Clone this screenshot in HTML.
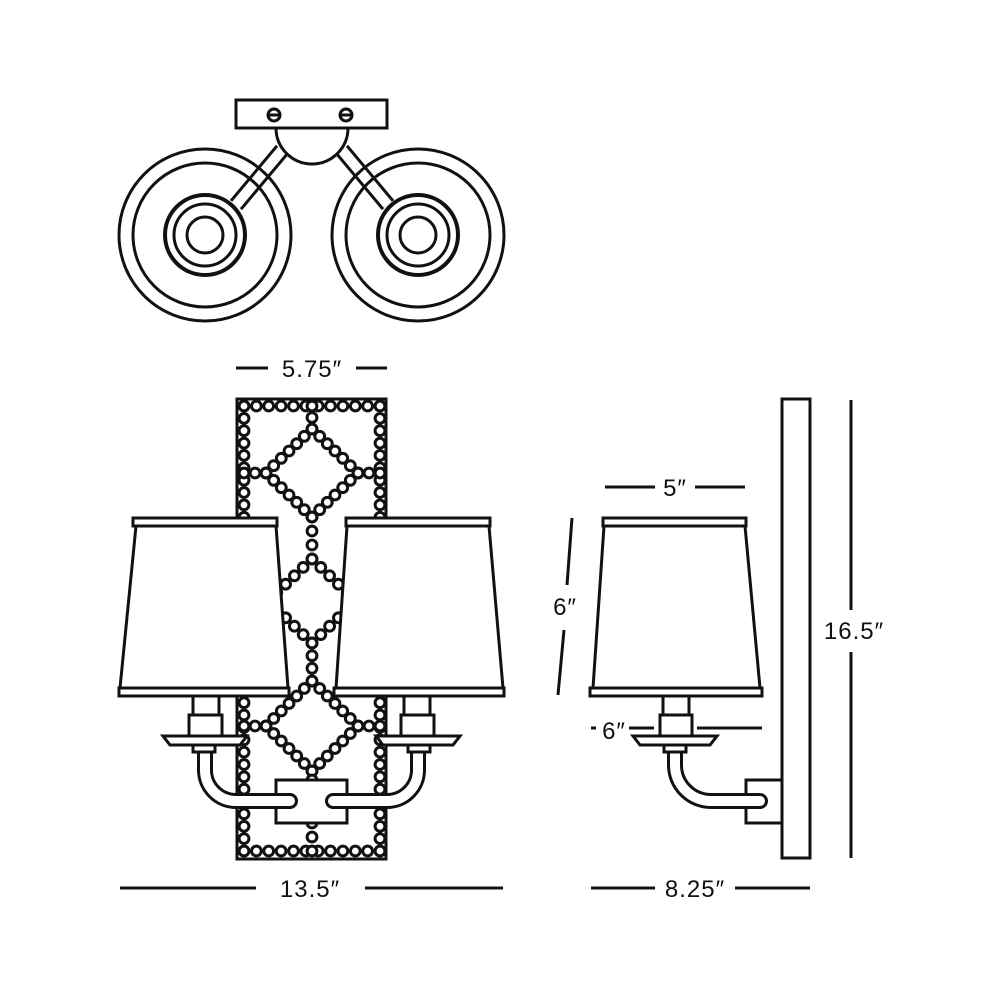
<!DOCTYPE html>
<html><head><meta charset="utf-8"><style>
html,body{margin:0;padding:0;background:#fff;}
svg{display:block;}
text{font-family:"Liberation Sans",sans-serif;font-size:24px;letter-spacing:1px;fill:#111;}
</style></head><body>
<svg id="s" width="1000" height="1000" viewBox="0 0 1000 1000" xmlns="http://www.w3.org/2000/svg" fill="none" stroke="#111" stroke-width="3">
<!-- TOP VIEW -->
<g>
<line x1="282" y1="150" x2="236" y2="205" stroke="#111" stroke-width="16"/>
<line x1="282" y1="150" x2="236" y2="205" stroke="#fff" stroke-width="10"/>
<line x1="342" y1="150" x2="388" y2="205" stroke="#111" stroke-width="16"/>
<line x1="342" y1="150" x2="388" y2="205" stroke="#fff" stroke-width="10"/>
<circle cx="205" cy="235" r="86"/>
<circle cx="205" cy="235" r="72"/>
<circle cx="418" cy="235" r="86"/>
<circle cx="418" cy="235" r="72"/>
<circle cx="205" cy="235" r="40" fill="#fff" stroke-width="4"/>
<circle cx="205" cy="235" r="31"/>
<circle cx="205" cy="235" r="18"/>
<circle cx="418" cy="235" r="40" fill="#fff" stroke-width="4"/>
<circle cx="418" cy="235" r="31"/>
<circle cx="418" cy="235" r="18"/>
<path d="M276 128 A36 36 0 0 0 348 128" fill="#fff"/>
<rect x="236" y="100" width="151" height="28" fill="#fff"/>
<circle cx="274" cy="115" r="6"/><line x1="268" y1="115" x2="280" y2="115"/>
<circle cx="346" cy="115" r="6"/><line x1="340" y1="115" x2="352" y2="115"/>
</g>
<!-- FRONT backplate -->
<rect x="237" y="399" width="149" height="460" fill="#fff" stroke-width="3"/>
<g id="beads"></g>
<rect x="276" y="780" width="71" height="43" fill="#fff"/>
<g id="arms">
<path d="M205 750 V770 A31 31 0 0 0 236 801 H290" stroke="#111" stroke-width="16" stroke-linecap="round"/>
<path d="M205 750 V770 A31 31 0 0 0 236 801 H290" stroke="#fff" stroke-width="10" stroke-linecap="round"/>
<path d="M418 750 V770 A31 31 0 0 1 387 801 H333" stroke="#111" stroke-width="16" stroke-linecap="round"/>
<path d="M418 750 V770 A31 31 0 0 1 387 801 H333" stroke="#fff" stroke-width="10" stroke-linecap="round"/>
</g>
<g fill="#fff">
<rect x="193" y="696" width="26" height="19"/>
<rect x="189" y="715" width="33" height="21"/>
<path d="M163 736 H247 L240 745 H170 Z"/>
<rect x="193" y="745" width="22" height="7"/>
<path d="M136 526 H276 L288 688 H120 Z"/>
<rect x="133" y="518" width="144" height="8"/>
<rect x="119" y="688" width="170" height="8"/>
</g>
<g fill="#fff">
<rect x="404" y="696" width="26" height="19"/>
<rect x="401" y="715" width="33" height="21"/>
<path d="M376 736 H460 L453 745 H383 Z"/>
<rect x="408" y="745" width="22" height="7"/>
<path d="M347 526 H489 L503 688 H336 Z"/>
<rect x="346" y="518" width="144" height="8"/>
<rect x="334" y="688" width="170" height="8"/>
</g>
<!-- SIDE VIEW -->
<rect x="782" y="399" width="28" height="459" fill="#fff"/>
<rect x="746" y="780" width="36" height="43" fill="#fff"/>
<path d="M675 750 V765 A36 36 0 0 0 711 801 H760" stroke="#111" stroke-width="16" stroke-linecap="round"/>
<path d="M675 750 V765 A36 36 0 0 0 711 801 H760" stroke="#fff" stroke-width="10" stroke-linecap="round"/>
<g fill="#fff">
<rect x="663" y="696" width="26" height="19"/>
<rect x="660" y="715" width="32" height="21"/>
<path d="M633 736 H717 L710 745 H640 Z"/>
<rect x="664" y="745" width="22" height="7"/>
<path d="M604 526 H745 L760 688 H593 Z"/>
<rect x="603" y="518" width="143" height="8"/>
<rect x="590" y="688" width="172" height="8"/>
</g>
<!-- DIMENSIONS -->
<g stroke-width="3">
<line x1="236" y1="368" x2="268" y2="368"/><line x1="356" y1="368" x2="387" y2="368"/>
<line x1="120" y1="888" x2="256" y2="888"/><line x1="365" y1="888" x2="503" y2="888"/>
<line x1="591" y1="888" x2="655" y2="888"/><line x1="735" y1="888" x2="810" y2="888"/>
<line x1="851" y1="400" x2="851" y2="610"/><line x1="851" y1="652" x2="851" y2="858"/>
<line x1="605" y1="487" x2="655" y2="487"/><line x1="695" y1="487" x2="745" y2="487"/>
<line x1="572" y1="518" x2="567" y2="585"/><line x1="564" y1="630" x2="558" y2="695"/>
<line x1="591" y1="728" x2="596" y2="728"/>
<line x1="629" y1="728" x2="654" y2="728"/><line x1="697" y1="728" x2="762" y2="728"/>
</g>
<g stroke="none">
<text x="312" y="377" text-anchor="middle">5.75″</text>
<text x="310" y="897" text-anchor="middle">13.5″</text>
<text x="695" y="897" text-anchor="middle">8.25″</text>
<text x="854" y="639" text-anchor="middle">16.5″</text>
<text x="675" y="496" text-anchor="middle">5″</text>
<text x="565" y="615" text-anchor="middle">6″</text>
<text x="614" y="739" text-anchor="middle">6″</text>
</g>
</svg>
<script>
(function(){
var g=document.getElementById('beads');var ns='http://www.w3.org/2000/svg';
function b(x,y){var c=document.createElementNS(ns,'circle');c.setAttribute('cx',x.toFixed(1));c.setAttribute('cy',y.toFixed(1));c.setAttribute('r','4.9');c.setAttribute('fill','#fff');c.setAttribute('stroke','#111');c.setAttribute('stroke-width','3');g.appendChild(c);}
function L(x1,y1,x2,y2,st){var d=Math.hypot(x2-x1,y2-y1);var n=Math.max(1,Math.round(d/(st||12.3)));for(var i=0;i<=n;i++){b(x1+(x2-x1)*i/n,y1+(y2-y1)*i/n);}}
L(244,406,380,406);L(244,851,380,851);L(244,406,244,851);L(380,406,380,851);
function D(cx,cy,hw,hh){L(cx,cy-hh,cx-hw,cy,11.5);L(cx-hw,cy,cx,cy+hh,11.5);L(cx,cy+hh,cx+hw,cy,11.5);L(cx+hw,cy,cx,cy-hh,11.5);}
D(312,473,46,44);D(312,601,44,42);D(312,726,46,45);
L(312,406,312,429);L(312,517,312,559);L(312,643,312,681);L(312,771,312,780);L(312,823,312,851);
L(244,473,266,473);L(358,473,380,473);L(244,726,266,726);L(358,726,380,726);
L(244,601,268,601);L(356,601,380,601);
var r=document.createElementNS(ns,'rect');r.setAttribute('x','237');r.setAttribute('y','399');r.setAttribute('width','149');r.setAttribute('height','460');r.setAttribute('fill','none');r.setAttribute('stroke','#111');r.setAttribute('stroke-width','3');g.appendChild(r);
})();
</script>
</body></html>
